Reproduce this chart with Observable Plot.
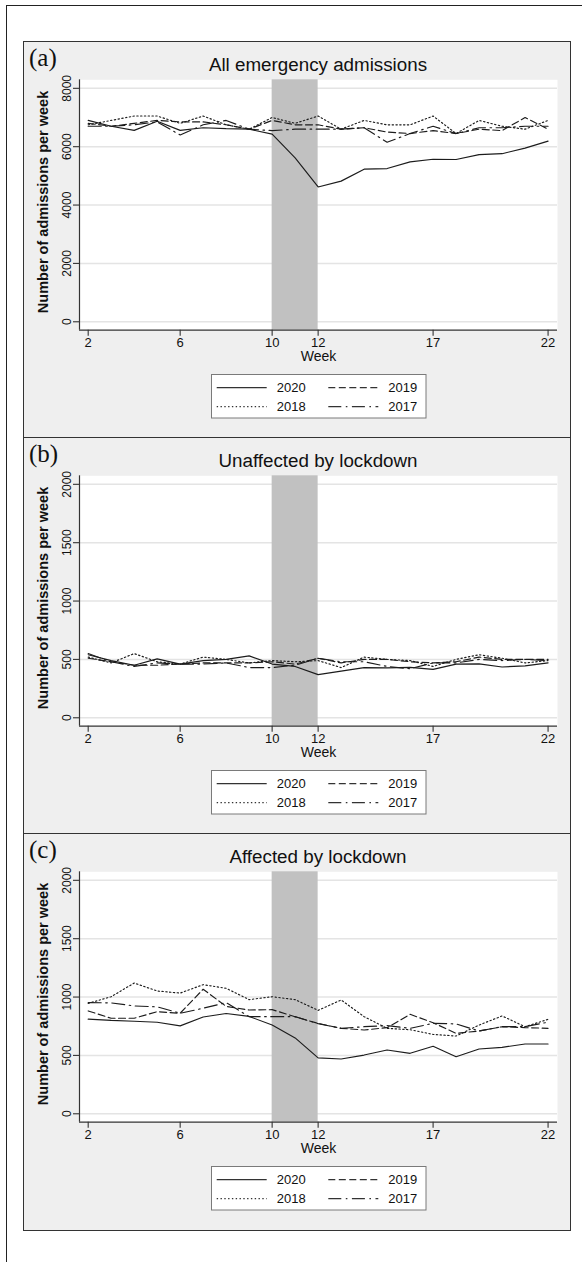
<!DOCTYPE html>
<html><head><meta charset="utf-8">
<script src="https://cdn.jsdelivr.net/npm/d3@7"></script>
<script src="https://cdn.jsdelivr.net/npm/@observablehq/plot@0.6"></script>
<style>
body{margin:0;background:#fff;}
#root{position:relative;width:582px;height:1262px;overflow:hidden;font-family:"Liberation Sans",Arial,Helvetica,sans-serif;color:#111;}
.frame{position:absolute;left:6px;top:5px;width:620px;height:1300px;border-top:1.3px solid #222;border-left:1.3px solid #222;}
.panel{position:absolute;left:23px;width:548px;height:398px;box-sizing:border-box;background:#efefef;border:1.5px solid #333;}
.tag{position:absolute;left:29px;font-family:"Liberation Serif","Times New Roman",serif;font-size:25px;line-height:25px;color:#111;}
.title{position:absolute;left:318px;transform:translateX(-50%);white-space:nowrap;font-size:18.8px;line-height:20px;color:#111;}
.plot{position:absolute;left:23px;}
.legend{position:absolute;left:211px;}
</style>
</head><body>
<div id="root"><div class="frame"></div></div>
<script>
// ---- data ----
const weeks = [2,3,4,5,6,7,8,9,10,11,12,13,14,15,16,17,18,19,20,21,22];
const xTicks = [2,6,10,12,17,22];
const years = ["2020","2019","2018","2017"];
const lockdown = {start: 10, end: 12};

const panelTags = ["(a)","(b)","(c)"];
const panelTitles = ["All emergency admissions","Unaffected by lockdown","Affected by lockdown"];
const yTicksA = [0,2000,4000,6000,8000];
const yTicksBC = [0,500,1000,1500,2000];

const a2020 = [6900,6700,6560,6870,6560,6650,6620,6600,6430,5620,4620,4820,5230,5250,5480,5570,5560,5730,5760,5950,6190];
const a2019 = [6800,6700,6800,6900,6850,6850,6750,6600,6900,6750,6750,6600,6650,6500,6450,6550,6450,6600,6550,7000,6600];
const a2018 = [6750,6900,7050,7050,6800,7050,6750,6600,7000,6800,7050,6600,6900,6750,6750,7050,6450,6900,6700,6600,6900];
const a2017 = [6700,6700,6750,6850,6400,6750,6900,6600,6550,6600,6600,6600,6650,6150,6450,6700,6450,6650,6650,6700,6700];

const b2020 = [540,490,450,505,460,490,500,530,460,440,370,400,430,428,432,415,460,462,435,445,470];
const b2019 = [510,480,450,450,460,470,470,470,480,460,510,470,500,500,480,470,480,520,500,500,500];
const b2018 = [520,470,550,480,460,520,500,470,490,480,490,430,520,500,490,440,500,540,510,470,490];
const b2017 = [550,480,440,470,460,460,470,430,430,450,510,480,480,440,420,470,470,500,490,500,490];

const c2020 = [811,800,793,784,753,829,859,834,760,650,479,469,503,546,518,578,489,555,569,598,598];
const c2019 = [881,818,818,875,861,1067,920,889,892,831,774,732,718,738,852,780,689,709,746,738,732];
const c2018 = [946,1003,1120,1052,1034,1106,1075,978,1003,978,886,975,832,732,720,680,666,760,838,746,809];
const c2017 = [952,950,924,916,861,904,952,832,832,832,772,732,746,755,732,775,770,709,746,746,785];

const panelSeries = [
  {"2020": a2020, "2019": a2019, "2018": a2018, "2017": a2017},
  {"2020": b2020, "2019": b2019, "2018": b2018, "2017": b2017},
  {"2020": c2020, "2019": c2019, "2018": c2018, "2017": c2017}
];
const panelYTicks = [yTicksA, yTicksBC, yTicksBC];

// ---- styles ----
const dash = {"2020": null, "2019": "7,3.5", "2018": "1.4,2.4", "2017": "13,4.5,1.6,4.5"};
const lineColor = "#1c1c1c";
const panelTops = [40.7, 436.8, 833];
const font = '"Liberation Sans", Arial, Helvetica, sans-serif';

const root = document.getElementById("root");

panelTops.forEach((top, i) => {
  const p = document.createElement("div");
  p.className = "panel"; p.style.top = top + "px";
  root.appendChild(p);
});

panelTops.forEach((top, i) => {
  const ticks = panelYTicks[i];
  const yMax = ticks[ticks.length - 1];
  const unit = yMax / 232.8;          // value per pixel
  const yDomain = [-8.4 * unit, yMax + 8.5 * unit];
  const xDomain = [1.622, 22.41];
  const series = panelSeries[i];
  const rows = years.map(yr => weeks.map((w, k) => ({week: w, value: series[yr][k], year: yr})));

  const marks = [
    Plot.frame({fill: "white", stroke: null}),
    Plot.gridY(ticks, {stroke: "#e4e4e4", strokeOpacity: 1, strokeWidth: 1.5}),
    Plot.rect([lockdown], {x1: "start", x2: "end", fill: "#c1c1c1"}),
    ...years.map((yr, k) => Plot.line(rows[k], {
      x: "week", y: "value", stroke: lineColor, strokeWidth: 1.15,
      strokeDasharray: dash[yr], strokeLinejoin: "miter"
    })),
    Plot.ruleX([xDomain[0]], {stroke: "#333", strokeWidth: 1.2}),
    Plot.ruleY([yDomain[0]], {stroke: "#333", strokeWidth: 1.2}),
    Plot.axisY(ticks, {tickSize: 6, tickFormat: () => "", label: null, stroke: "#333", strokeWidth: 1.1}),
    Plot.text(ticks, {frameAnchor: "left", y: d => d, text: d => String(d), rotate: -90, dx: -12,
      textAnchor: "middle", lineAnchor: "middle", fontSize: 12, fill: "#111"}),
    Plot.text(["Number of admissions per week"], {frameAnchor: "left", rotate: -90, dx: -36, dy: -3,
      textAnchor: "middle", lineAnchor: "middle", fontSize: 14.5, fontWeight: "bold", fill: "#111"}),
    Plot.axisX(xTicks, {tickSize: 6, tickPadding: 2, label: null, fontSize: 13, stroke: "#333", strokeWidth: 1.1, fill: "#111"}),
    Plot.text(["Week"], {frameAnchor: "bottom", dy: 31, fontSize: 14, fill: "#111"})
  ];

  const svg = Plot.plot({
    width: 548, height: 300,
    marginLeft: 56, marginRight: 14, marginTop: 8.3, marginBottom: 41.3,
    x: {domain: xDomain},
    y: {domain: yDomain},
    style: {background: "transparent", fontFamily: font, overflow: "visible"},
    marks
  });
  svg.classList.add("plot");
  svg.style.top = (top + 30) + "px";
  root.appendChild(svg);

  const tag = document.createElement("div");
  tag.className = "tag"; tag.textContent = panelTags[i];
  tag.style.top = (top + 4) + "px";
  root.appendChild(tag);

  const title = document.createElement("div");
  title.className = "title"; title.textContent = panelTitles[i];
  title.style.top = (top + 14) + "px";
  root.appendChild(title);

  // legend (plain SVG built from years and dash styles)
  const ns = "http://www.w3.org/2000/svg";
  const lg = document.createElementNS(ns, "svg");
  lg.setAttribute("width", 216); lg.setAttribute("height", 45);
  lg.setAttribute("class", "legend");
  lg.style.top = (top + 333.4) + "px";
  const r = document.createElementNS(ns, "rect");
  r.setAttribute("x", 0.5); r.setAttribute("y", 0.5); r.setAttribute("width", 214.5); r.setAttribute("height", 43.5);
  r.setAttribute("fill", "white"); r.setAttribute("stroke", "#7a7a7a"); r.setAttribute("stroke-width", 1);
  lg.appendChild(r);
  const order = ["2020","2019","2018","2017"];
  order.forEach((yr, k) => {
    const col = k % 2, row = Math.floor(k / 2);
    const cy = 13.6 + row * 19;
    const x0 = col === 0 ? 5.7 : 117.3;
    const l = document.createElementNS(ns, "line");
    l.setAttribute("x1", x0); l.setAttribute("x2", x0 + 50);
    l.setAttribute("y1", cy); l.setAttribute("y2", cy);
    l.setAttribute("stroke", "#333"); l.setAttribute("stroke-width", 1.15);
    if (dash[yr]) l.setAttribute("stroke-dasharray", dash[yr]);
    lg.appendChild(l);
    const t = document.createElementNS(ns, "text");
    t.setAttribute("x", x0 + 60); t.setAttribute("y", cy);
    t.setAttribute("dy", "0.35em");
    t.setAttribute("font-size", 13); t.setAttribute("font-family", font); t.setAttribute("fill", "#111");
    t.textContent = yr;
    lg.appendChild(t);
  });
  root.appendChild(lg);
});
</script>
</body></html>
